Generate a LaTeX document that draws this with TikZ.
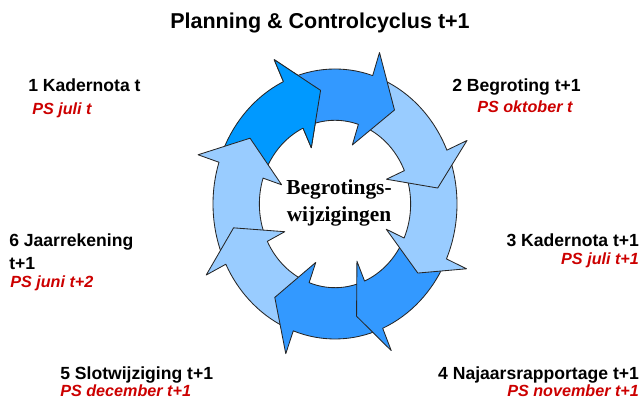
\documentclass[tikz,border=0pt]{standalone}
\usepackage{fontspec}
\setmainfont{Liberation Sans}
\newfontfamily\middlefont{Liberation Serif}
\usepackage{tikz}
\usetikzlibrary{positioning}

\definecolor{cycdark}{RGB}{0,153,255}
\definecolor{cycmid}{RGB}{51,153,255}
\definecolor{cyclight}{RGB}{153,204,255}
\definecolor{psred}{RGB}{204,0,0}

% curved block arrow on the ring: fill, tail angle, head base angle, tip angle
\newcommand{\ringarrow}[4]{%
  \filldraw[ringedge, fill=#1] (#2:1) arc[start angle=#2, end angle=#3, radius=1]
    -- (#3:1.18) -- (#4:0.85) -- (#3:0.46) -- (#3:0.62)
    arc[start angle=#3, end angle=#2, radius=0.62] -- cycle;}

\begin{document}
\begin{tikzpicture}
%            1 ---> 2
%          ^          v
%   6               [ring]      3
%          ^          v
%            5 <--- 4
    \tikzstyle{ringedge}=[draw=black!85, line width=0.6pt, line join=round]
    \tikzstyle{phase}=[font=\fontsize{12.5}{15}\selectfont\bfseries, inner sep=0pt]
    \tikzstyle{ps}=[font=\fontsize{11.5}{14}\selectfont\bfseries\itshape, text=psred, inner sep=0pt]
    \useasboundingbox (0,0) rectangle (16,10);

    \node[anchor=base, inner sep=0pt, font=\fontsize{15.3}{18}\selectfont\bfseries] (title) at (8.0,9.275) {Planning \& Controlcyclus t+1};

    % the ring of eight arrows, clockwise
    \begin{scope}[shift={(8.375,4.9)}, xscale=3.05, yscale=3.375]
        \ringarrow{cycdark}{161}{115}{98}
        \ringarrow{cyclight}{-154.5}{-198}{-215}
        \ringarrow{cyclight}{-111}{-153.5}{-168}
        \ringarrow{cycmid}{-68}{-110}{-125.5}
        \ringarrow{cycmid}{-25}{-67}{-78}
        \ringarrow{cyclight}{22.5}{-24}{-37}
        \ringarrow{cyclight}{71}{23.5}{8}
        \ringarrow{cycmid}{114}{72}{55}
        % head of the first arrow lies over the tail of the last one
        \fill[cycdark] (115:1) -- (115:1.18) -- (98:0.85) -- (115:0.46) -- (115:0.62) -- cycle;
        \draw[ringedge] (115:1) -- (115:1.18) -- (98:0.85) -- (115:0.46) -- (115:0.62);
    \end{scope}

    \node[align=center, inner sep=0pt, font=\middlefont\fontsize{15.2}{19}\selectfont\bfseries] (middle) at (8.475,4.925) {Begrotings-\\wijzigingen};

    % phases with their PS moment
    \node[phase, anchor=base west] (kader) at (0.7,7.7) {1 Kadernota t};
    \node[ps, anchor=base west] (kaderps) at (0.8,7.125) {PS juli t};
    \node[phase, anchor=base west] (begroting) at (11.3,7.7) {2 Begroting t+1};
    \node[ps, anchor=base west] (begrotingps) at (11.925,7.175) {PS oktober t};
    \node[phase, anchor=base east] (kadernext) at (15.98,3.825) {3 Kadernota t+1};
    \node[ps, anchor=base east] (kadernextps) at (15.98,3.375) {PS juli t+1};
    \node[phase, anchor=base east] (najaar) at (15.98,0.51) {4 Najaarsrapportage t+1};
    \node[ps, anchor=base east] (najaarps) at (15.98,0.08) {PS november t+1};
    \node[phase, anchor=base west] (slot) at (1.5,0.51) {5 Slotwijziging t+1};
    \node[ps, anchor=base west] (slotps) at (1.5,0.08) {PS december t+1};
    \node[phase, anchor=base west] (jaar) at (0.225,3.825) {6 Jaarrekening};
    \node[phase, anchor=base west] (jaart) at (0.225,3.25) {t+1};
    \node[ps, anchor=base west] (jaarps) at (0.25,2.8) {PS juni t+2};
\end{tikzpicture}
\end{document}
